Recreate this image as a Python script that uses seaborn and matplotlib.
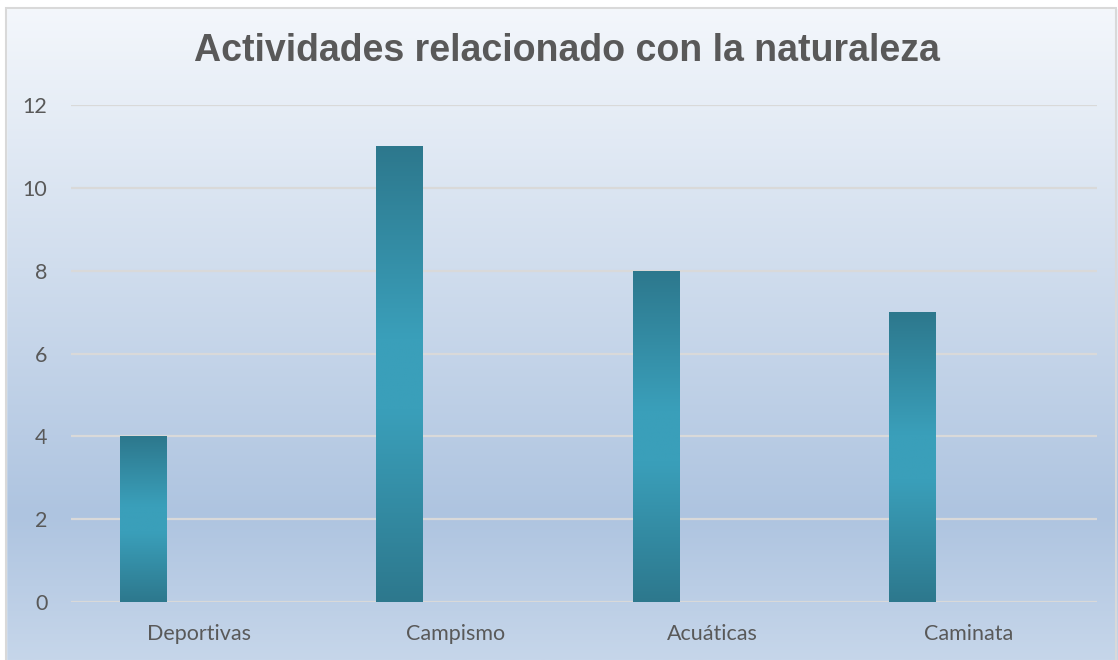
import numpy as np
import pandas as pd
import matplotlib
matplotlib.use('Agg')
import matplotlib.pyplot as plt
from matplotlib.colors import LinearSegmentedColormap
from matplotlib.patches import Rectangle
import seaborn as sns

# data
actividades = ['Deportivas', 'Campismo', 'Acuáticas', 'Caminata']
cantidad = [4, 11, 8, 7]
y_ticks = [0, 2, 4, 6, 8, 10, 12]

df = pd.DataFrame({'actividad': actividades, 'cantidad': cantidad})

sns.set_style('white')
plt.rcParams['font.family'] = ['Lato', 'DejaVu Sans']

fig = plt.figure(figsize=(11.18, 6.6), dpi=100)

# background gradient (Excel style)
bg = fig.add_axes([0, 0, 1, 1], zorder=-2)
bg_cmap = LinearSegmentedColormap.from_list(
    'bg', [(0.0, '#f5f8fc'), (0.78, '#aec4e0'), (1.0, '#c6d6ea')])
grad = np.linspace(0, 1, 256).reshape(-1, 1)
bg.imshow(grad, aspect='auto', cmap=bg_cmap, extent=[0, 1, 0, 1], origin='upper')
bg.set_xlim(0, 1)
bg.set_ylim(0, 1)
bg.axis('off')
# white margin + border
bg.add_patch(Rectangle((0, 1 - 8 / 660), 1, 8 / 660, color='white', zorder=3))
bg.add_patch(Rectangle((0, 0), 6 / 1118, 1, color='white', zorder=3))
bg.add_patch(Rectangle((6 / 1118, -0.01), 1110 / 1118, 1 - 8 / 660 + 0.01,
                       fill=False, edgecolor='#d9d9d9', linewidth=1.5, zorder=4))

ax = fig.add_axes([71 / 1118, 58 / 660, 1026 / 1118, 497 / 660])
ax.patch.set_alpha(0)

sns.barplot(data=df, x='actividad', y='cantidad', ax=ax, width=0.18,
            color='#2e7b8f', saturation=1, zorder=3)

# shift bars to the left of each category slot, apply vertical gradient
bar_cmap = LinearSegmentedColormap.from_list(
    'bar', [(0.0, '#2d788d'), (0.42, '#3a9fba'), (0.58, '#3a9fba'), (1.0, '#2d788d')])
for p in ax.patches:
    p.set_x(p.get_x() - 0.22)
    x0, y0, w, h = p.get_x(), p.get_y(), p.get_width(), p.get_height()
    p.set_facecolor('none')
    p.set_edgecolor('none')
    g = np.linspace(0, 1, 256).reshape(-1, 1)
    im = ax.imshow(g, aspect='auto', cmap=bar_cmap, origin='lower',
                   extent=[x0, x0 + w, y0, y0 + h], zorder=3)
    im.set_clip_path(p)

ax.set_xlim(-0.5, 3.5)
ax.set_ylim(0, 12)
ax.set_yticks(y_ticks)
ax.grid(axis='y', color='#d9d9d9', linewidth=1.6, zorder=0)
ax.set_axisbelow(True)
for s in ax.spines.values():
    s.set_visible(False)
ax.tick_params(axis='both', length=0, labelsize=15.5, labelcolor='#595959')
ax.tick_params(axis='y', pad=17)
ax.tick_params(axis='x', pad=16)
ax.set_xlabel('')
ax.set_ylabel('')

fig.text(567 / 1118, 1 - 51 / 660, 'Actividades relacionado con la naturaleza',
         ha='center', va='center', fontsize=27, fontweight='bold',
         color='#595959', family=['Liberation Sans', 'DejaVu Sans'])

fig.savefig('out.png', dpi=100)
